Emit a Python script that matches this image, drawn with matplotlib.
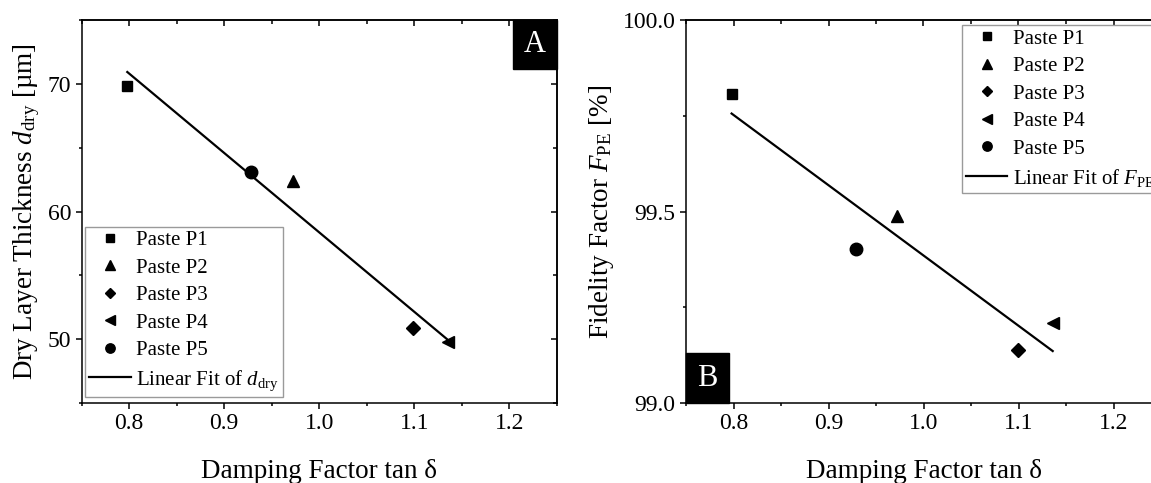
import numpy as np
import matplotlib
matplotlib.use("Agg")
import matplotlib.pyplot as plt
from matplotlib.patches import Rectangle
from matplotlib.ticker import MultipleLocator, FormatStrFormatter

plt.rcParams["font.family"] = ["Liberation Serif", "DejaVu Serif"]
plt.rcParams["mathtext.fontset"] = "custom"
plt.rcParams["mathtext.rm"] = "Liberation Serif"
plt.rcParams["mathtext.it"] = "Liberation Serif:italic"
plt.rcParams["mathtext.bf"] = "Liberation Serif:bold"

# Pastes P1..P5
pastes = ["Paste P1", "Paste P2", "Paste P3", "Paste P4", "Paste P5"]
markers = ["s", "^", "D", "<", "o"]
marker_sizes = [7.5, 9, 7, 9, 9]
tan_delta = [0.798, 0.972, 1.099, 1.136, 0.928]
d_dry = [69.8, 62.4, 50.9, 49.8, 63.1]
tan_delta_b = [0.798, 0.972, 1.0995, 1.136, 0.929]
fidelity = [99.807, 99.487, 99.139, 99.210, 99.403]

W, H = 1151, 483
fig = plt.figure(figsize=(W / 100, H / 100), dpi=100)

ax_left, ax_bottom, ax_w, ax_h = 81.7, 80, 475, 383
axA = fig.add_axes([ax_left / W, ax_bottom / H, ax_w / W, ax_h / H])
axB = fig.add_axes([686 / W, ax_bottom / H, ax_w / W, ax_h / H])

TICK_FS = 17
LABEL_FS = 19.5
LEG_FS = 15


def style_axes(ax):
    for s in ax.spines.values():
        s.set_linewidth(1.1)
    ax.tick_params(which="both", direction="out", top=False, right=False,
                   labelsize=TICK_FS, width=1.1, colors="black")
    ax.tick_params(which="major", length=4.5, pad=3)
    ax.tick_params(which="minor", length=2.5)
    # mirrored ticks pointing inwards on top
    sec_x = ax.secondary_xaxis("top")
    sec_x.xaxis.set_major_locator(MultipleLocator(0.1))
    sec_x.xaxis.set_minor_locator(MultipleLocator(0.05))
    sec_x.tick_params(which="both", direction="in", labeltop=False, width=1.1)
    sec_x.tick_params(which="major", length=4.5)
    sec_x.tick_params(which="minor", length=3)
    sec_x.spines["top"].set_linewidth(1.1)
    return sec_x


def fit_line(ax, x, y, label):
    k, b = np.polyfit(x, y, 1)
    xs = np.array([min(x), max(x)])
    ax.plot(xs, k * xs + b, color="black", lw=1.6, label=label, zorder=2)


def corner_box(ax, x0, y0, w, h, text):
    ax.add_patch(Rectangle((x0, y0), w, h, transform=ax.transAxes,
                           facecolor="black", edgecolor="black", zorder=5,
                           clip_on=False))
    ax.text(x0 + w / 2, y0 + h / 2, text, transform=ax.transAxes, color="white",
            fontsize=22, ha="center", va="center", zorder=6)


def make_legend(ax, loc, anchor):
    leg = ax.legend(loc=loc, bbox_to_anchor=anchor, borderaxespad=0,
                    fontsize=LEG_FS, frameon=True, fancybox=False,
                    edgecolor="#9a9a9a", framealpha=1, labelspacing=0.38,
                    handlelength=2.0, handletextpad=0.25, borderpad=0.2,
                    markerscale=0.75)
    leg.get_frame().set_linewidth(1.0)
    return leg


# ---- Panel A: dry layer thickness ----
for x, y, m, ms, lab in zip(tan_delta, d_dry, markers, marker_sizes, pastes):
    axA.plot([x], [y], ls="none", marker=m, ms=ms, color="black", label=lab, zorder=3)
fit_line(axA, tan_delta, d_dry, r"Linear Fit of $d_{\mathrm{dry}}$")
axA.set_xlim(0.75, 1.25)
axA.set_ylim(45, 75)
axA.xaxis.set_major_locator(MultipleLocator(0.1))
axA.xaxis.set_minor_locator(MultipleLocator(0.05))
axA.xaxis.set_major_formatter(FormatStrFormatter("%.1f"))
axA.yaxis.set_major_locator(MultipleLocator(10))
axA.yaxis.set_minor_locator(MultipleLocator(5))
style_axes(axA)
secA = axA.secondary_yaxis("right")
secA.yaxis.set_major_locator(MultipleLocator(10))
secA.yaxis.set_minor_locator(MultipleLocator(5))
secA.tick_params(which="both", direction="in", labelright=False, width=1.1)
secA.tick_params(which="major", length=4.5)
secA.tick_params(which="minor", length=3)
secA.spines["right"].set_linewidth(1.1)
axA.set_xlabel(r"Damping Factor tan δ", fontsize=LABEL_FS, labelpad=18)
axA.set_ylabel(r"Dry Layer Thickness $d_{\mathrm{dry}}$ [µm]", fontsize=LABEL_FS, labelpad=4)
corner_box(axA, 1 - 44 / ax_w, 1 - 49 / ax_h, 44 / ax_w, 49 / ax_h, "A")
make_legend(axA, "lower left", (0.007, 0.016))

# ---- Panel B: fidelity factor ----
for x, y, m, ms, lab in zip(tan_delta_b, fidelity, markers, marker_sizes, pastes):
    axB.plot([x], [y], ls="none", marker=m, ms=ms, color="black", label=lab, zorder=3)
fit_line(axB, tan_delta_b, fidelity, r"Linear Fit of $F_{\mathrm{PE}}$")
axB.set_xlim(0.75, 1.25)
axB.set_ylim(99.0, 100.0)
axB.xaxis.set_major_locator(MultipleLocator(0.1))
axB.xaxis.set_minor_locator(MultipleLocator(0.05))
axB.xaxis.set_major_formatter(FormatStrFormatter("%.1f"))
axB.yaxis.set_major_locator(MultipleLocator(0.5))
axB.yaxis.set_minor_locator(MultipleLocator(0.25))
axB.yaxis.set_major_formatter(FormatStrFormatter("%.1f"))
style_axes(axB)
axB.set_xlabel(r"Damping Factor tan δ", fontsize=LABEL_FS, labelpad=18)
axB.set_ylabel(r"Fidelity Factor $F_{\mathrm{PE}}$ [%]", fontsize=LABEL_FS, labelpad=5)
corner_box(axB, 0, 0, 43 / ax_w, 50 / ax_h, "B")
make_legend(axB, "upper left", (0.580, 0.987))

fig.savefig("out.png", dpi=100)
